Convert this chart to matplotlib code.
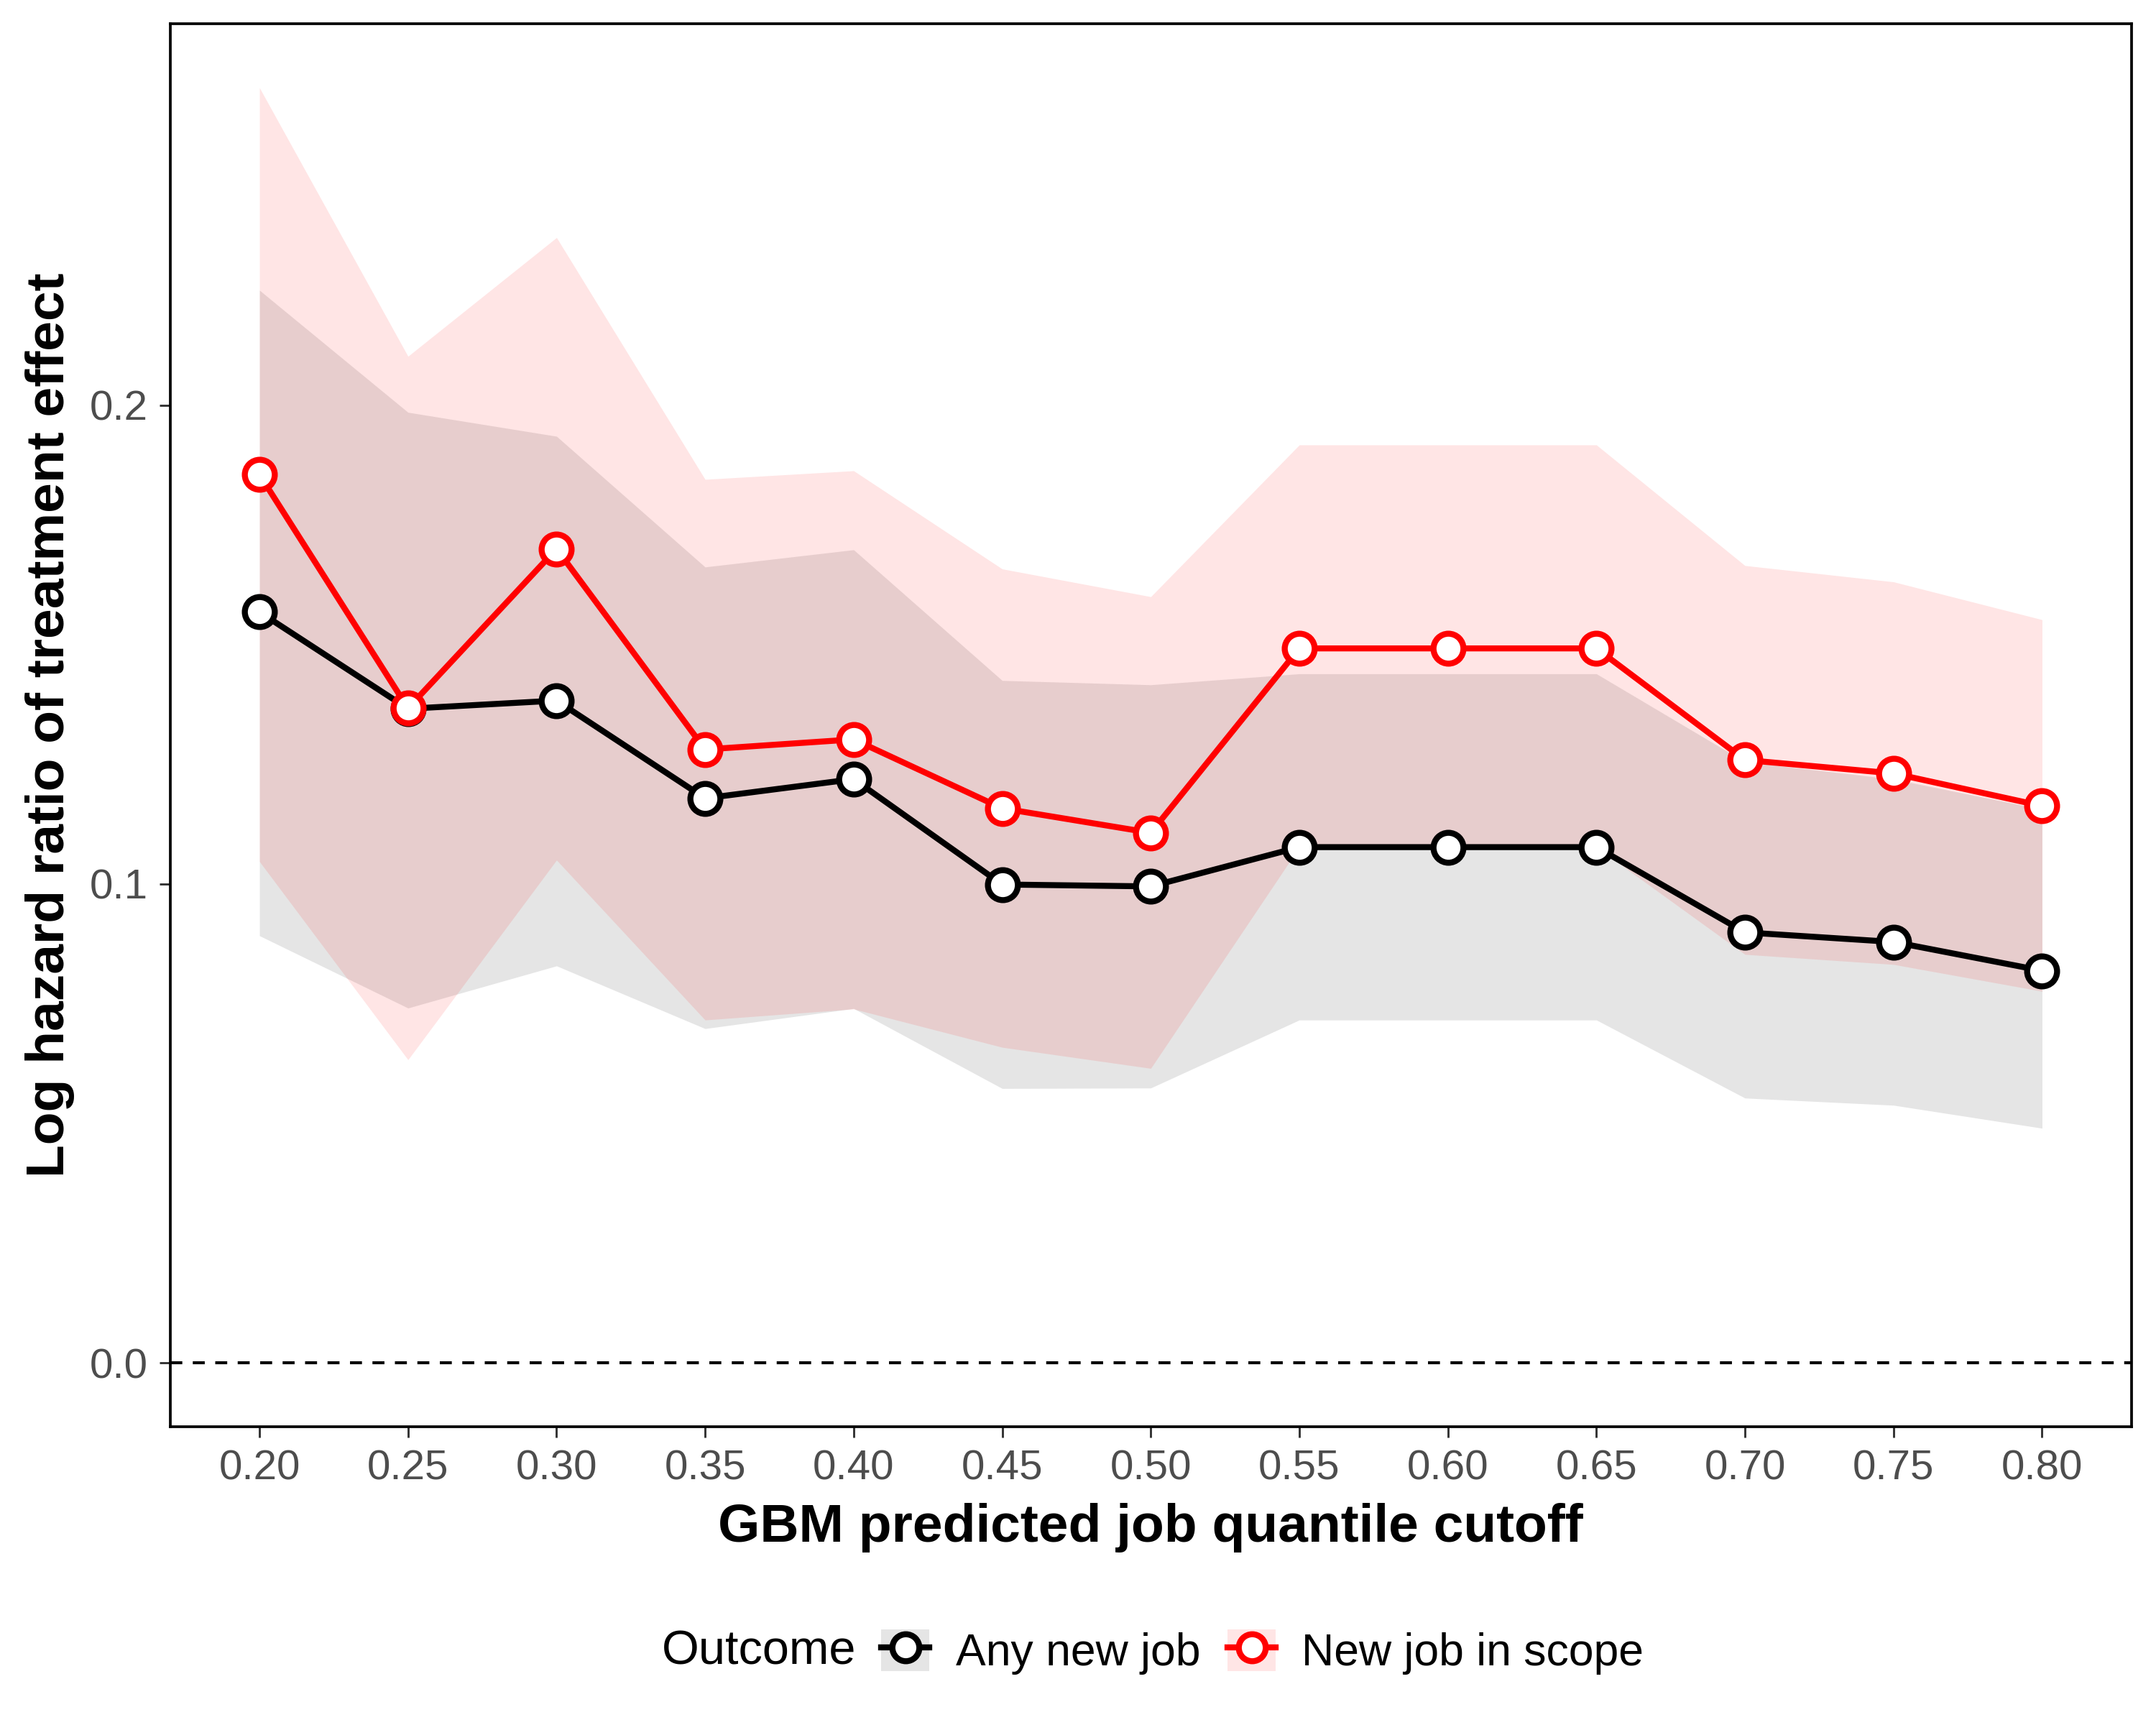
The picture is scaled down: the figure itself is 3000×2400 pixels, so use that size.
import matplotlib
matplotlib.use("Agg")
import matplotlib.pyplot as plt
from matplotlib.lines import Line2D
from matplotlib.patches import Patch

plt.rcParams['font.family'] = ['Liberation Sans', 'DejaVu Sans']

# quantile cutoffs
cutoffs = [0.20, 0.25, 0.30, 0.35, 0.40, 0.45, 0.50, 0.55, 0.60, 0.65, 0.70, 0.75, 0.80]
tick_labels = ['0.20', '0.25', '0.30', '0.35', '0.40', '0.45', '0.50',
               '0.55', '0.60', '0.65', '0.70', '0.75', '0.80']

# Any new job
any_est = [0.1568, 0.1366, 0.1383, 0.1179, 0.1219, 0.0999, 0.0995,
           0.1077, 0.1077, 0.1077, 0.0899, 0.0879, 0.0819]
any_lo = [0.0892, 0.0741, 0.0829, 0.0698, 0.0740, 0.0573, 0.0574,
          0.0716, 0.0716, 0.0716, 0.0553, 0.0538, 0.0490]
any_hi = [0.2240, 0.1985, 0.1935, 0.1662, 0.1698, 0.1425, 0.1416,
          0.1439, 0.1439, 0.1439, 0.1255, 0.1219, 0.1156]

# New job in scope
scope_est = [0.1855, 0.1367, 0.1700, 0.1281, 0.1302, 0.1158, 0.1107,
             0.1492, 0.1492, 0.1492, 0.1259, 0.1231, 0.1163]
scope_lo = [0.1047, 0.0633, 0.1050, 0.0716, 0.0739, 0.0659, 0.0615,
            0.1077, 0.1077, 0.1077, 0.0853, 0.0832, 0.0776]
scope_hi = [0.2663, 0.2102, 0.2350, 0.1845, 0.1863, 0.1658, 0.1600,
            0.1917, 0.1917, 0.1917, 0.1665, 0.1631, 0.1552]

yticks = [0.0, 0.1, 0.2]
ytick_labels = ['0.0', '0.1', '0.2']

fig = plt.figure(figsize=(10, 8), dpi=300)
ax = fig.add_axes([0.079, 0.173, 0.9095, 0.8134])

ax.axhline(0, color='black', lw=1.0, ls=(0, (4, 3.5)), zorder=1)

ax.fill_between(cutoffs, any_lo, any_hi, color='black', alpha=0.1, lw=0, zorder=2)
ax.fill_between(cutoffs, scope_lo, scope_hi, color='red', alpha=0.1, lw=0, zorder=3)

ax.plot(cutoffs, any_est, color='black', lw=2.0, marker='o', ms=10,
        mfc='white', mec='black', mew=2.0, zorder=4)
ax.plot(cutoffs, scope_est, color='red', lw=2.0, marker='o', ms=10,
        mfc='white', mec='red', mew=2.0, zorder=5)

ax.set_xlim(0.17, 0.83)
ax.set_ylim(-0.0133, 0.2797)
ax.set_xticks(cutoffs)
ax.set_xticklabels(tick_labels)
ax.set_yticks(yticks)
ax.set_yticklabels(ytick_labels)
ax.tick_params(axis='both', direction='out', length=3.5, width=0.7,
               color='#333333', labelcolor='#4d4d4d', labelsize=14, pad=4)
for s in ax.spines.values():
    s.set_linewidth(0.9)
    s.set_color('black')

ax.set_xlabel('GBM predicted job quantile cutoff', fontsize=18, fontweight='bold', labelpad=5)
ax.set_ylabel('Log hazard ratio of treatment effect', fontsize=18, fontweight='bold', labelpad=5)

# legend at the bottom, title on the left
h_any = (Patch(facecolor='black', alpha=0.1, lw=0),
         Line2D([], [], color='black', lw=2.0, marker='o', ms=9, mfc='white', mec='black', mew=2.0))
h_scope = (Patch(facecolor='red', alpha=0.1, lw=0),
           Line2D([], [], color='red', lw=2.0, marker='o', ms=9, mfc='white', mec='red', mew=2.0))
fig.text(0.3068, 0.0423, 'Outcome', fontsize=16, va='center', ha='left')
leg = fig.legend([h_any, h_scope], ['Any new job', 'New job in scope'],
                 loc='center left', bbox_to_anchor=(0.4088, 0.0423), ncol=2, frameon=False,
                 fontsize=15, handlelength=1.07, handleheight=1.07, handletextpad=0.58,
                 columnspacing=0.61, borderpad=0, borderaxespad=0)

fig.savefig('out.png', dpi=300)
